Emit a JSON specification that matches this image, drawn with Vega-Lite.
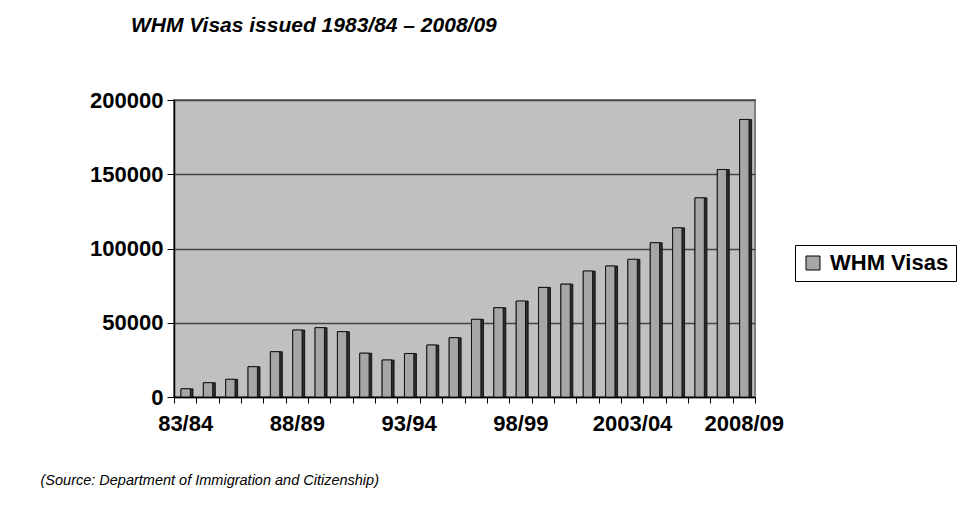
{
  "$schema": "https://vega.github.io/schema/vega-lite/v6.json",
  "width": 581,
  "height": 297,
  "autosize": {"type": "none"},
  "padding": {"left": 174, "top": 100, "right": 211, "bottom": 109},
  "background": "white",
  "title": {
    "text": "WHM Visas issued 1983/84 – 2008/09",
    "anchor": "start",
    "frame": "group",
    "dx": -43,
    "offset": 36,
    "baseline": "alphabetic",
    "font": "Liberation Sans",
    "fontSize": 21,
    "fontStyle": "italic",
    "fontWeight": "bold",
    "color": "black"
  },
  "data": {
    "values": [
      {"year": "83/84", "visas": 5500},
      {"year": "84/85", "visas": 9600},
      {"year": "85/86", "visas": 11900},
      {"year": "86/87", "visas": 20400},
      {"year": "87/88", "visas": 30500},
      {"year": "88/89", "visas": 45100},
      {"year": "89/90", "visas": 46700},
      {"year": "90/91", "visas": 44000},
      {"year": "91/92", "visas": 29500},
      {"year": "92/93", "visas": 24900},
      {"year": "93/94", "visas": 29300},
      {"year": "94/95", "visas": 35000},
      {"year": "95/96", "visas": 39900},
      {"year": "96/97", "visas": 52300},
      {"year": "97/98", "visas": 60100},
      {"year": "98/99", "visas": 64600},
      {"year": "99/00", "visas": 73800},
      {"year": "2000/01", "visas": 76000},
      {"year": "2001/02", "visas": 84800},
      {"year": "2002/03", "visas": 88200},
      {"year": "2003/04", "visas": 92700},
      {"year": "2004/05", "visas": 103900},
      {"year": "2005/06", "visas": 113900},
      {"year": "2006/07", "visas": 134100},
      {"year": "2007/08", "visas": 153200},
      {"year": "2008/09", "visas": 186900}
    ]
  },
  "encoding": {
    "x": {
      "field": "year",
      "type": "nominal",
      "sort": null,
      "scale": {"paddingInner": 0, "paddingOuter": 0},
      "axis": {
        "title": "(Source: Department of Immigration and Citizenship)",
        "titleFont": "Liberation Sans",
        "titleFontStyle": "italic",
        "titleFontWeight": "normal",
        "titleFontSize": 14.5,
        "titleColor": "black",
        "titleX": -134,
        "titleY": 87,
        "titleAlign": "left",
        "titleAnchor": "start",
        "titleBaseline": "alphabetic",
        "labelAngle": 0,
        "labelFont": "Liberation Sans",
        "labelFontSize": 22,
        "labelFontWeight": "bold",
        "labelColor": "black",
        "labelPadding": 10,
        "labelOverlap": false,
        "labelExpr": "indexof(['83/84','88/89','93/94','98/99','2003/04','2008/09'], datum.value) >= 0 ? datum.value : ''",
        "tickBand": "extent",
        "tickSize": 6,
        "tickColor": "black",
        "domainColor": "black",
        "domainWidth": 1.5,
        "grid": false
      }
    },
    "y": {
      "field": "visas",
      "type": "quantitative",
      "scale": {"domain": [0, 200000]},
      "axis": {
        "title": null,
        "values": [0, 50000, 100000, 150000, 200000],
        "format": "d",
        "labelFont": "Liberation Sans",
        "labelFontSize": 22,
        "labelFontWeight": "bold",
        "labelColor": "black",
        "labelPadding": 4,
        "tickSize": 7,
        "tickColor": "black",
        "domainColor": "black",
        "domainWidth": 1.5,
        "grid": true,
        "gridColor": "#444444",
        "gridWidth": 1.5
      }
    }
  },
  "layer": [
    {
      "mark": {"type": "bar", "fill": "#2e2e2e", "stroke": "black", "strokeWidth": 0.8, "width": 12, "xOffset": 1.8}
    },
    {
      "mark": {"type": "bar", "stroke": "black", "strokeWidth": 0.8, "width": 9.3, "xOffset": 0.5},
      "encoding": {
        "color": {
          "datum": "WHM Visas",
          "scale": {"range": ["#a6a6a6"]},
          "legend": {
            "title": null,
            "orient": "none",
            "legendX": 621,
            "legendY": 145,
            "strokeColor": "black",
            "padding": 7,
            "symbolType": "square",
            "symbolSize": 196,
            "symbolStrokeColor": "black",
            "symbolStrokeWidth": 1,
            "labelFont": "Liberation Sans",
            "labelFontSize": 22,
            "labelFontWeight": "bold",
            "labelColor": "black",
            "labelOffset": 6
          }
        }
      }
    }
  ],
  "config": {
    "view": {"fill": "#c0c0c0", "stroke": "#808080", "strokeWidth": 2}
  }
}
